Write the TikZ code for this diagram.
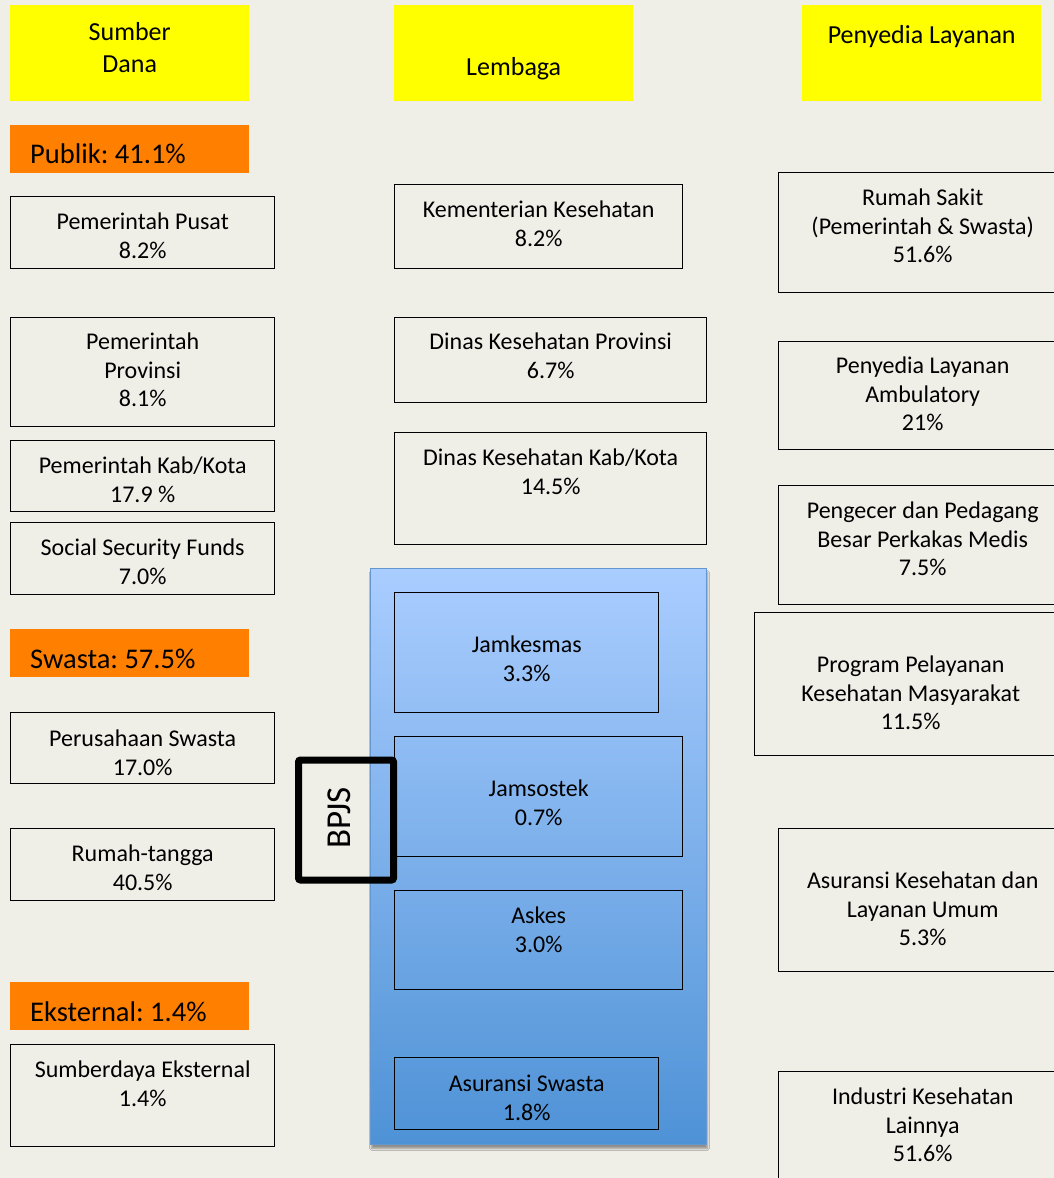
\documentclass[tikz,border=0pt]{standalone}
\usepackage{fontspec}
\setmainfont{Carlito}
\frenchspacing
\usetikzlibrary{positioning,shadows.blur}
\definecolor{paper}{RGB}{239,238,231}
\definecolor{headyellow}{RGB}{255,255,0}
\definecolor{grporange}{RGB}{255,127,0}
\definecolor{bluetop}{RGB}{170,205,255}
\definecolor{bluebot}{RGB}{78,146,214}
\definecolor{blueline}{RGB}{100,150,210}
\begin{document}
\begin{tikzpicture}[x=1pt,y=-1pt]
            \tikzset{
	head/.style={fill=headyellow, anchor=north west, inner sep=0, minimum width=239pt, minimum height=96pt},
	headtxt/.style={anchor=north, align=center, inner sep=0, font=\fontsize{26}{32}\selectfont, execute at begin node=\strut},
	grp/.style={fill=grporange, anchor=north west, inner sep=0, minimum width=239pt, minimum height=48pt},
	grptxt/.style={anchor=base west, inner sep=0, font=\fontsize{28.5}{34}\selectfont},
	box/.style={draw, line width=1.4pt, anchor=north west, inner sep=0},
	txt/.style={anchor=north, align=center, inner sep=0, font=\fontsize{24}{28.5}\selectfont, execute at begin node=\strut}
}

\fill[paper] (0,0) rectangle (1054,1178);
\useasboundingbox (0,0) rectangle (1054,1178);

% headers
\node[head] (sumber) at (10,5) {};
\node[headtxt, below=17pt of sumber.north] (sumber-t) {Sumber\\Dana};
\node[head] (lembaga) at (394,5) {};
\node[headtxt, below=48pt of lembaga.north] (lembaga-t) {Lembaga};
\node[head] (penyedia) at (802,5) {};
\node[headtxt, below=16pt of penyedia.north] (penyedia-t) {Penyedia Layanan};

% sumber dana
\node[grp] (publik) at (10,125) {};
\node[grptxt] (publik-t) at (30,163) {Publik: 41.1\%};
\node[box, minimum width=264pt, minimum height=72pt] (pusat) at (10,196) {};
\node[txt, below=17pt of pusat.north] (pusat-t) {Pemerintah Pusat\\8.2\%};
\node[box, minimum width=264pt, minimum height=109pt] (prov) at (10,317) {};
\node[txt, below=16pt of prov.north] (prov-t) {Pemerintah\\Provinsi\\8.1\%};
\node[box, minimum width=264pt, minimum height=71pt] (kab) at (10,440) {};
\node[txt, below=17pt of kab.north] (kab-t) {Pemerintah Kab/Kota\\17.9 \%};
\node[box, minimum width=264pt, minimum height=72pt] (ssf) at (10,522) {};
\node[txt, below=17pt of ssf.north] (ssf-t) {Social Security Funds\\7.0\%};

\node[grp] (swasta) at (10,629) {};
\node[grptxt] (swasta-t) at (30,668) {Swasta: 57.5\%};
\node[box, minimum width=264pt, minimum height=71pt] (perusahaan) at (10,712) {};
\node[txt, below=18pt of perusahaan.north] (perusahaan-t) {Perusahaan Swasta\\17.0\%};
\node[box, minimum width=264pt, minimum height=72pt] (rumah) at (10,828) {};
\node[txt, below=17pt of rumah.north] (rumah-t) {Rumah-tangga\\40.5\%};

\node[grp] (eksternal) at (10,982) {};
\node[grptxt] (eksternal-t) at (30,1021) {Eksternal: 1.4\%};
\node[box, minimum width=264pt, minimum height=102pt] (sdx) at (10,1044) {};
\node[txt, below=17pt of sdx.north] (sdx-t) {Sumberdaya Eksternal\\1.4\%};

% lembaga
\node[box, minimum width=288pt, minimum height=84pt] (kemenkes) at (394,184) {};
\node[txt, below=17pt of kemenkes.north] (kemenkes-t) {Kementerian Kesehatan\\8.2\%};
\node[box, minimum width=312pt, minimum height=85pt] (dinprov) at (394,317) {};
\node[txt, below=16pt of dinprov.north] (dinprov-t) {Dinas Kesehatan Provinsi\\6.7\%};
\node[box, minimum width=312pt, minimum height=112pt] (dinkab) at (394,432) {};
\node[txt, below=17pt of dinkab.north] (dinkab-t) {Dinas Kesehatan Kab/Kota\\14.5\%};

\node[anchor=north west, inner sep=0, minimum width=336pt, minimum height=576pt,
	top color=bluetop, bottom color=bluebot, draw=blueline, line width=0.8pt,
	blur shadow={shadow xshift=1pt, shadow yshift=-4pt, shadow blur steps=6, shadow opacity=40}] (asuransi) at (370,568) {};
\node[box, minimum width=264pt, minimum height=120pt] (jamkesmas) at (394,592) {};
\node[txt, below=44pt of jamkesmas.north] (jamkesmas-t) {Jamkesmas\\3.3\%};
\node[box, minimum width=288pt, minimum height=120pt] (jamsostek) at (394,736) {};
\node[txt, below=44pt of jamsostek.north] (jamsostek-t) {Jamsostek\\0.7\%};
\node[box, minimum width=288pt, minimum height=99pt] (askes) at (394,890) {};
\node[txt, below=17pt of askes.north] (askes-t) {Askes\\3.0\%};
\node[box, minimum width=264pt, minimum height=72pt] (swastains) at (394,1057) {};
\node[txt, below=18pt of swastains.north] (swastains-t) {Asuransi Swasta\\1.8\%};

\node[draw, line width=7pt, rounded corners=2pt, minimum width=95pt, minimum height=120pt] (bpjs) at (346,820) {};
\node[rotate=90, inner sep=0, font=\fontsize{35}{40}\selectfont] (bpjs-t) at (339,818) {BPJS};

% penyedia layanan
\node[box, minimum width=288pt, minimum height=120pt] (rs) at (778,172) {};
\node[txt, below=17pt of rs.north] (rs-t) {Rumah Sakit\\(Pemerintah \& Swasta)\\51.6\%};
\node[box, minimum width=288pt, minimum height=108pt] (ambulatory) at (778,341) {};
\node[txt, below=16pt of ambulatory.north] (ambulatory-t) {Penyedia Layanan\\Ambulatory\\21\%};
\node[box, minimum width=288pt, minimum height=119pt] (pengecer) at (778,485) {};
\node[txt, below=17pt of pengecer.north] (pengecer-t) {Pengecer dan Pedagang\\Besar Perkakas Medis\\7.5\%};
\node[box, minimum width=312pt, minimum height=143pt] (program) at (754,612) {};
\node[txt, below=44pt of program.north] (program-t) {Program Pelayanan\\Kesehatan Masyarakat\\11.5\%};
\node[box, minimum width=288pt, minimum height=143pt] (askum) at (778,828) {};
\node[txt, below=44pt of askum.north] (askum-t) {Asuransi Kesehatan dan\\Layanan Umum\\5.3\%};
\node[box, minimum width=288pt, minimum height=120pt] (industri) at (778,1071) {};
\node[txt, below=17pt of industri.north] (industri-t) {Industri Kesehatan\\Lainnya\\51.6\%};
        \end{tikzpicture}
\end{document}
